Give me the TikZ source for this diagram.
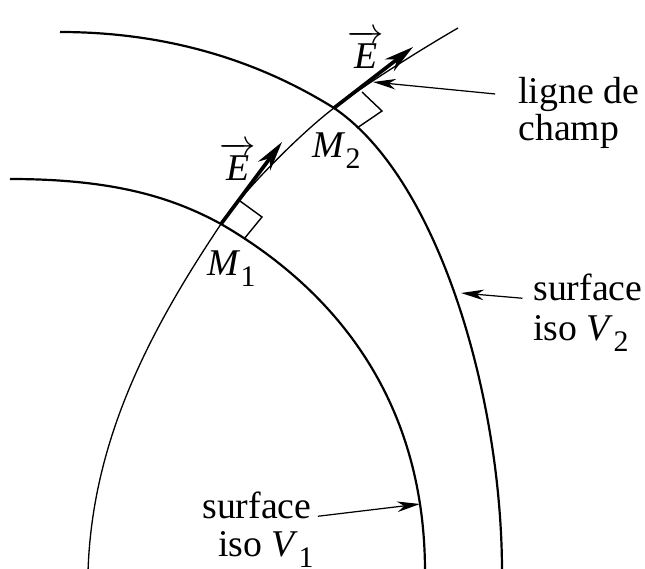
\documentclass[tikz,border=0pt]{standalone}
\usepackage{amsmath}
\usepackage{fontspec}
\setmainfont{Liberation Serif}
\usetikzlibrary{arrows.meta,positioning}

\newcommand{\lowsub}[1]{\raisebox{-0.3em}{\fontsize{17}{17}\selectfont #1}}
\newcommand{\vecE}{$\overrightarrow{\textit{E}}$}

\tikzset{
  iso/.style={line width=1.25pt},
  fieldline/.style={line width=0.75pt},
  vecfield/.style={line width=2.1pt, -{Stealth[length=17pt,width=8.5pt,inset=5.5pt]}},
  callout/.style={line width=0.7pt, -{Stealth[length=13pt,width=6pt,inset=4pt]}},
  perp/.style={line width=0.8pt},
  lab/.style={inner sep=0pt, font=\rmfamily\fontsize{21.5}{21}\selectfont}
}

\begin{document}
\begin{tikzpicture}[x=0.02cm,y=-0.02cm]
\useasboundingbox (0,0) rectangle (645,568);
\clip (0,0) rectangle (645,568);

\coordinate (M1) at (221,224);
\coordinate (M2) at (334,108);
\coordinate (E1tip) at (282,142);
\coordinate (E2tip) at (413,47);

% surfaces iso V2 et iso V1
\draw[iso] (60,32) .. controls (180,32) and (270,68) .. (M2)
  .. controls (440,180) and (502,400) .. (502,572);
\draw[iso] (10,179) .. controls (110,179) and (170,196) .. (M1)
  .. controls (335,290) and (425,400) .. (425,572);

% ligne de champ
\draw[fieldline] (88,572) .. controls (92,440) and (150,330) .. (M1)
  .. controls (243,191) and (302,132) .. (M2)
  .. controls (366,84) and (420,50) .. (458,28);

% vecteurs E
\draw[vecfield] (M1) -- (E1tip);
\draw[vecfield] (M2) -- (E2tip);

% angles droits
\draw[perp] (240,201) -- (262,217) -- (244,239);
\draw[perp] (362,92) -- (382,111) -- (357,128);

\node[lab, anchor=base west] (E1) at (219,180) {\vecE};
\node[lab, anchor=base west] (E2) at (347,68) {\vecE};
\node[lab, anchor=base west] (lM1) at (207,275) {\textit{M}\lowsub{1}};
\node[lab, anchor=base west] (lM2) at (312,157) {\textit{M}\lowsub{2}};

\node[lab, anchor=base west] (ligne) at (518,103) {ligne de};
\node[lab, anchor=base west] (champ) at (518,140) {champ};
\node[lab, anchor=base west] (surfTwo) at (533,300) {surface};
\node[lab, anchor=base west] (isoTwo) at (533,340) {iso \textit{V}\lowsub{2}};
\node[lab, anchor=base west] (surfOne) at (202,518) {surface};
\node[lab, anchor=base west] (isoOne) at (218,556) {iso \textit{V}\lowsub{1}};

\coordinate (tipLigne) at (373,82);
\coordinate (tipTwo) at (461,293);
\coordinate (tipOne) at (420,504);
\draw[callout] ([xshift=-13pt]ligne.west) -- (tipLigne);
\draw[callout] ([xshift=-6pt,yshift=1pt]surfTwo.base west) -- (tipTwo);
\draw[callout] ([xshift=3.5pt,yshift=1pt]surfOne.base east) -- (tipOne);
\end{tikzpicture}
\end{document}
